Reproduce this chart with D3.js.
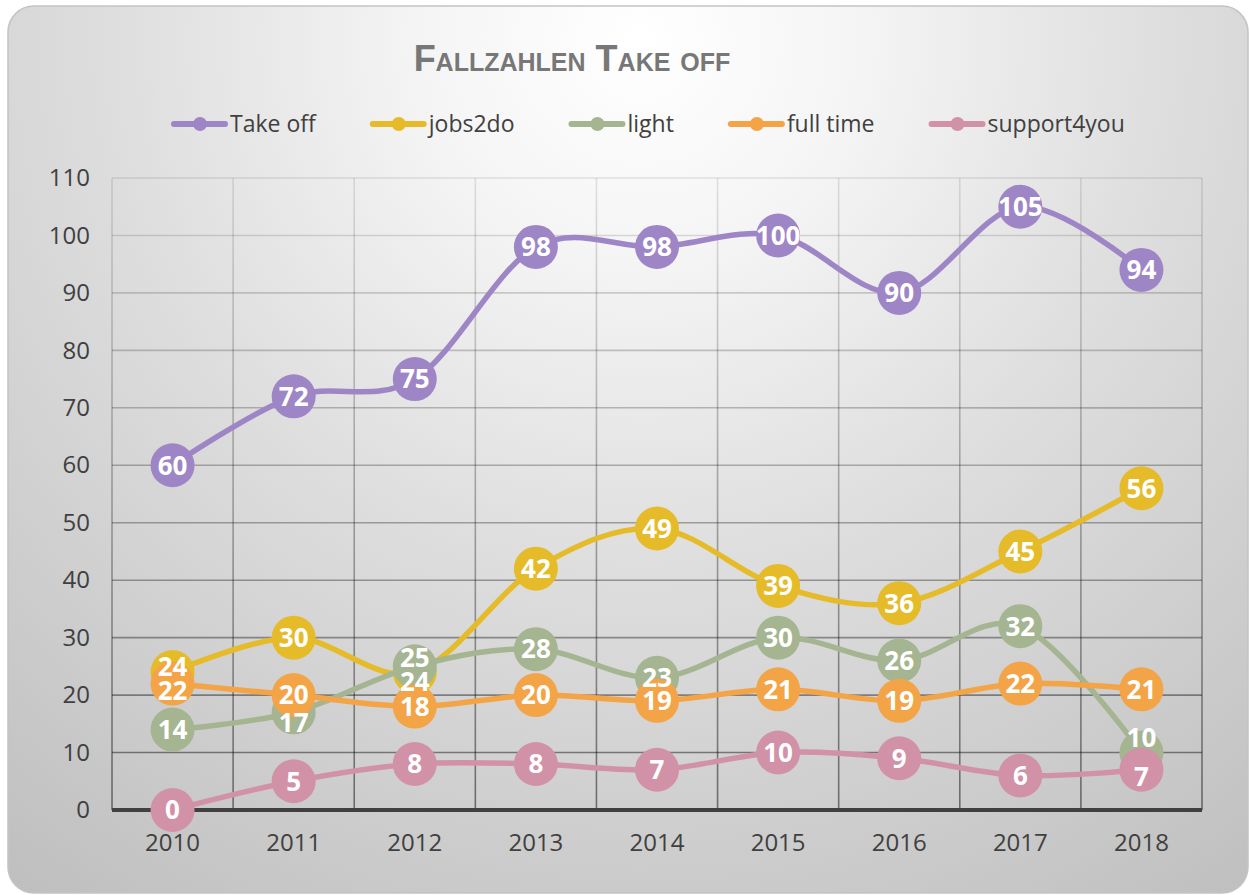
<!DOCTYPE html>
<html>
<head>
<meta charset="utf-8">
<script src="https://cdn.jsdelivr.net/npm/d3@7"></script>
<style>
  body { margin: 0; background: #fff; }
  svg { display: block; }
</style>
</head>
<body>
<svg id="chart"></svg>
<script>
// data
var years = ["2010", "2011", "2012", "2013", "2014", "2015", "2016", "2017", "2018"];
var seriesNames = ["Take off", "jobs2do", "light", "full time", "support4you"];
var seriesColors = ["#9e86c6", "#e6bb29", "#a5b592", "#f3a447", "#d192a8"];
var takeOff = [60, 72, 75, 98, 98, 100, 90, 105, 94];
var jobs2do = [24, 30, 24, 42, 49, 39, 36, 45, 56];
var light = [14, 17, 25, 28, 23, 30, 26, 32, 10];
var fullTime = [22, 20, 18, 20, 19, 21, 19, 22, 21];
var support4you = [0, 5, 8, 8, 7, 10, 9, 6, 7];
var yTicks = [0, 10, 20, 30, 40, 50, 60, 70, 80, 90, 100, 110];

var seriesValues = [takeOff, jobs2do, light, fullTime, support4you];

// label nudges in px (series index, year index, dy) where labels were moved apart
var labelNudges = [
  [1, 0, -5], [3, 0, 7],
  [2, 1, 10],
  [2, 2, -9], [1, 2, 10],
  [2, 8, -15], [4, 8, 7]
];

var width = 1250, height = 895;
var plot = { left: 112, right: 1202, top: 178, bottom: 810 };
var font = "'Open Sans', sans-serif";

var svg = d3.select("#chart")
  .attr("width", width)
  .attr("height", height);

var defs = svg.append("defs");

// panel background: light at the top, grey towards the edges
var bg = defs.append("radialGradient")
  .attr("id", "bg")
  .attr("gradientUnits", "userSpaceOnUse")
  .attr("cx", 640).attr("cy", 40).attr("r", 1050);
bg.append("stop").attr("offset", 0).attr("stop-color", "#ffffff");
bg.append("stop").attr("offset", 0.2).attr("stop-color", "#f5f5f5");
bg.append("stop").attr("offset", 0.5).attr("stop-color", "#dedede");
bg.append("stop").attr("offset", 1).attr("stop-color", "#bfbfbf");

// grid lines get darker towards the bottom
var gridGrad = defs.append("linearGradient")
  .attr("id", "gridGrad")
  .attr("gradientUnits", "userSpaceOnUse")
  .attr("x1", 0).attr("y1", plot.top).attr("x2", 0).attr("y2", plot.bottom);
gridGrad.append("stop").attr("offset", 0).attr("stop-color", "#000").attr("stop-opacity", 0.1);
gridGrad.append("stop").attr("offset", 1).attr("stop-color", "#000").attr("stop-opacity", 0.48);

svg.append("rect")
  .attr("x", 8).attr("y", 6)
  .attr("width", 1240).attr("height", 887)
  .attr("rx", 26).attr("ry", 26)
  .attr("fill", "url(#bg)")
  .attr("stroke", "#c4c4c4")
  .attr("stroke-width", 1.5);

// scales
var x = d3.scaleBand()
  .domain(years)
  .range([plot.left, plot.right]);

var y = d3.scaleLinear()
  .domain([0, 110])
  .range([plot.bottom, plot.top]);

var cx = function(d, i) { return x(years[i]) + x.bandwidth() / 2; };

// horizontal grid
svg.append("g")
  .selectAll("line")
  .data(yTicks.slice(1))
  .enter()
  .append("line")
  .attr("x1", plot.left).attr("x2", plot.right)
  .attr("y1", d => y(d)).attr("y2", d => y(d) + 0.01)
  .attr("stroke", "url(#gridGrad)")
  .attr("stroke-width", 1.6);

// vertical grid at category borders
var borders = years.map(d => x(d)).concat([plot.right]);
svg.append("g")
  .selectAll("line")
  .data(borders)
  .enter()
  .append("line")
  .attr("x1", d => d).attr("x2", d => d + 0.01)
  .attr("y1", plot.top).attr("y2", plot.bottom)
  .attr("stroke", "url(#gridGrad)")
  .attr("stroke-width", 1.6);

// y axis labels
var yAxis = svg.append("g")
  .attr("transform", `translate(${plot.left},0)`)
  .call(d3.axisLeft(y).tickValues(yTicks).tickSize(0).tickPadding(22));
yAxis.select(".domain").remove();
yAxis.selectAll("text")
  .attr("font-family", font)
  .attr("font-size", "24px")
  .attr("fill", "#404040");

// x axis
var xAxis = svg.append("g")
  .attr("transform", `translate(0,${plot.bottom})`)
  .call(d3.axisBottom(x).tickSize(0).tickPadding(24));
xAxis.select(".domain").remove();
xAxis.selectAll("text")
  .attr("font-family", font)
  .attr("font-size", "24px")
  .attr("fill", "#404040");

svg.append("line")
  .attr("x1", plot.left).attr("x2", plot.right)
  .attr("y1", plot.bottom).attr("y2", plot.bottom)
  .attr("stroke", "#404040")
  .attr("stroke-width", 4);

// smoothed lines, Excel style
var line = d3.line()
  .x(cx)
  .y(d => y(d))
  .curve(d3.curveCatmullRom.alpha(0));

seriesValues.forEach(function(vals, s) {
  var g = svg.append("g");
  g.append("path")
    .attr("d", line(vals))
    .attr("fill", "none")
    .attr("stroke", seriesColors[s])
    .attr("stroke-width", 5.5)
    .attr("stroke-linecap", "round");
  g.selectAll("circle")
    .data(vals)
    .enter()
    .append("circle")
    .attr("cx", cx)
    .attr("cy", d => y(d))
    .attr("r", 22)
    .attr("fill", seriesColors[s]);
});

function nudge(s, i) {
  var n = labelNudges.find(a => a[0] === s && a[1] === i);
  return n ? n[2] : 0;
}

// data labels on top of everything
seriesValues.forEach(function(vals, s) {
  svg.append("g")
    .selectAll("text")
    .data(vals)
    .enter()
    .append("text")
    .attr("x", cx)
    .attr("y", (d, i) => y(d) + nudge(s, i))
    .attr("dy", "0.36em")
    .attr("text-anchor", "middle")
    .attr("font-family", font)
    .attr("font-weight", "bold")
    .attr("font-size", "26px")
    .attr("fill", "#fff")
    .text(d => d);
});

// title
svg.append("text")
  .attr("x", 572)
  .attr("y", 71)
  .attr("text-anchor", "middle")
  .attr("font-family", "'Liberation Sans Narrow', 'Liberation Sans', sans-serif")
  .attr("font-weight", "bold")
  .attr("font-size", "36px")
  .style("font-variant", "small-caps")
  .attr("fill", "#777777")
  .text("Fallzahlen Take off");

// legend
var legend = svg.append("g").attr("transform", "translate(171,124)");
var lx = 0;
seriesNames.forEach(function(name, s) {
  var item = legend.append("g").attr("transform", `translate(${lx},0)`);
  item.append("line")
    .attr("x1", 3).attr("x2", 54)
    .attr("y1", 0).attr("y2", 0)
    .attr("stroke", seriesColors[s])
    .attr("stroke-width", 6)
    .attr("stroke-linecap", "round");
  item.append("circle")
    .attr("cx", 29).attr("cy", 0).attr("r", 7)
    .attr("fill", seriesColors[s]);
  var t = item.append("text")
    .attr("x", 59)
    .attr("y", 0)
    .attr("dy", "0.35em")
    .attr("font-family", font)
    .attr("font-size", "23px")
    .attr("fill", "#404040")
    .text(name);
  lx += 59 + t.node().getComputedTextLength() + 54;
});
</script>
</body>
</html>
